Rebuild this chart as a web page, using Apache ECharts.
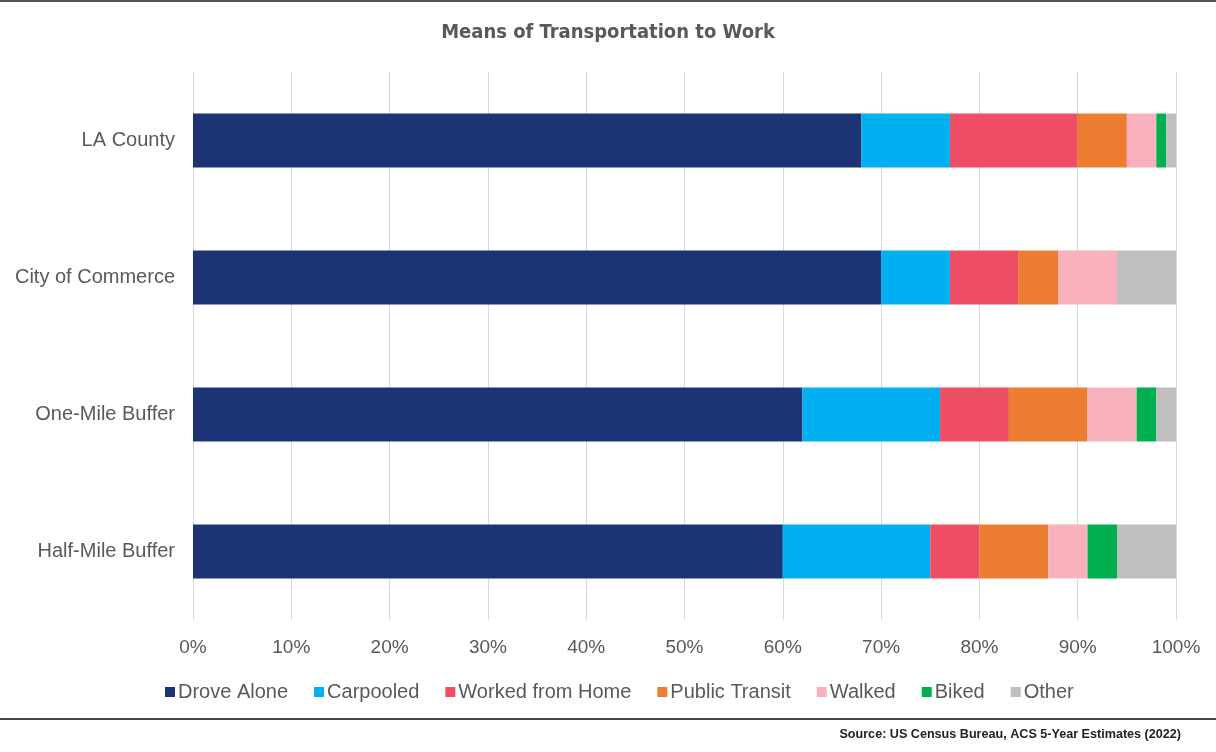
<!DOCTYPE html>
<html>
<head>
<meta charset="utf-8">
<script src="https://cdn.jsdelivr.net/npm/echarts@6/dist/echarts.min.js"></script>
<style>
  html, body { margin: 0; padding: 0; background: #ffffff; }
  #chart { width: 1216px; height: 752px; }
</style>
</head>
<body>
<div id="chart"></div>
<script>
// Places, listed bottom to top as the category axis draws them
const places = ['Half-Mile Buffer', 'One-Mile Buffer', 'City of Commerce', 'LA County'];

// Share of workers (%) by means of transportation, same order as places
const droveAlone     = [60, 62, 70, 68];
const carpooled      = [15, 14, 7, 9];
const workedFromHome = [5, 7, 7, 13];
const publicTransit  = [7, 8, 4, 5];
const walked         = [4, 5, 6, 3];
const biked          = [3, 2, 0, 1];
const other          = [6, 2, 6, 1];

const modeNames  = ['Drove Alone', 'Carpooled', 'Worked from Home', 'Public Transit', 'Walked', 'Biked', 'Other'];
const modeValues = [droveAlone, carpooled, workedFromHome, publicTransit, walked, biked, other];
const modeColors = ['#1c3475', '#00b0f0', '#f04e64', '#ed7d31', '#f8b1bd', '#00b050', '#bfbfbf'];

const xTicks = [0, 10, 20, 30, 40, 50, 60, 70, 80, 90, 100];

const textGray = '#595959';

const chart = echarts.init(document.getElementById('chart'), null, { renderer: 'canvas' });

chart.setOption({
  backgroundColor: '#ffffff',
  animation: false,
  title: {
    text: 'Means of Transportation to Work',
    left: 'center',
    top: 18,
    textStyle: {
      fontFamily: 'DejaVu Sans Condensed',
      fontWeight: 'bold',
      fontSize: 20,
      color: textGray
    }
  },
  grid: {
    left: 193,
    right: 40,
    top: 72,
    height: 548,
    containLabel: false
  },
  legend: {
    data: modeNames,
    left: 160,
    top: 677,
    icon: 'rect',
    itemWidth: 10,
    itemHeight: 10,
    itemGap: 26,
    textStyle: {
      fontFamily: 'Liberation Sans',
      fontSize: 20,
      color: textGray,
      padding: [0, 0, 0, -2]
    }
  },
  xAxis: {
    type: 'value',
    min: 0,
    max: 100,
    interval: 10,
    axisLine: { show: false },
    axisTick: { show: false },
    splitLine: { show: true, lineStyle: { color: '#d9d9d9', width: 1 } },
    axisLabel: {
      formatter: v => xTicks.includes(v) ? v + '%' : '',
      fontFamily: 'Liberation Sans',
      fontSize: 19,
      color: textGray,
      margin: 18
    }
  },
  yAxis: {
    type: 'category',
    data: places,
    axisLine: { show: false },
    axisTick: { show: false },
    axisLabel: {
      fontFamily: 'Liberation Sans',
      fontSize: 20,
      color: textGray,
      margin: 18
    }
  },
  series: modeNames.map((name, i) => ({
    name: name,
    type: 'bar',
    stack: 'total',
    barWidth: 54,
    itemStyle: { color: modeColors[i] },
    data: modeValues[i]
  })),
  graphic: [
    {
      type: 'rect',
      shape: { x: 0, y: 0, width: 1216, height: 2 },
      style: { fill: '#555555' },
      silent: true
    },
    {
      type: 'rect',
      shape: { x: 0, y: 718, width: 1216, height: 2 },
      style: { fill: '#444444' },
      silent: true
    },
    {
      type: 'text',
      right: 35,
      top: 728,
      style: {
        text: 'Source: US Census Bureau, ACS 5-Year Estimates (2022)',
        font: 'bold 12.6px "Liberation Sans"',
        fill: '#222222'
      },
      silent: true
    }
  ]
});
</script>
</body>
</html>
